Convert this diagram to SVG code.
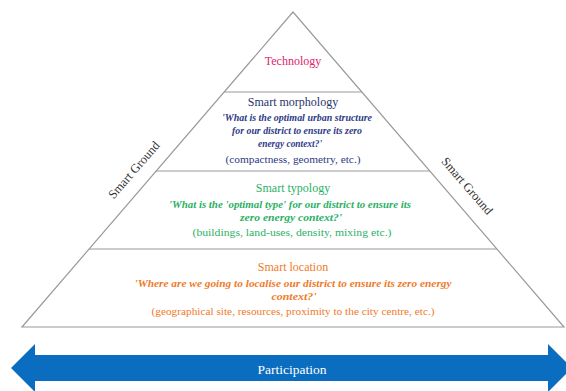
<svg xmlns="http://www.w3.org/2000/svg" width="566" height="391" viewBox="0 0 566 391" font-family="'Liberation Serif', 'Times New Roman', serif">
<style>
text{text-anchor:middle}
.t{font-size:12px}
.q{font-size:10.5px;font-weight:bold;font-style:italic}
.p{font-size:11px}
.ln{stroke:#9a9a9a;stroke-width:1.2;fill:none}
.navy{fill:#27336a}
.qnavy{fill:#2e3a86}
.green{fill:#2bb065}
.orange{fill:#f07a2a}
.sg{font-size:12.5px;fill:#333}
</style>
<rect width="566" height="391" fill="#ffffff"/>
<g id="connectors">
<path class="ln" d="M293,12 L22,327 L564,327 Z"/>
<line class="ln" x1="224" y1="92" x2="362" y2="92"/>
<line class="ln" x1="156" y1="171" x2="430" y2="171"/>
<line class="ln" x1="89" y1="249" x2="497" y2="249"/>
</g>
<g id="technology">
<text class="t" x="293" y="65" fill="#e0226c">Technology</text>
</g>
<g id="smart-morphology">
<text class="t navy" x="293" y="106">Smart morphology</text>
<text class="q qnavy" x="297" y="121" textLength="150" lengthAdjust="spacingAndGlyphs">'What is the optimal urban structure</text>
<text class="q qnavy" x="297" y="134" textLength="130" lengthAdjust="spacingAndGlyphs">for our district to ensure its zero</text>
<text class="q qnavy" x="290" y="147" textLength="64" lengthAdjust="spacingAndGlyphs">energy context?'</text>
<text class="p qnavy" x="293" y="163" textLength="135" lengthAdjust="spacingAndGlyphs">(compactness, geometry, etc.)</text>
</g>
<g id="smart-typology">
<text class="t green" x="293" y="192">Smart typology</text>
<text class="q green" x="290" y="208" textLength="242" lengthAdjust="spacingAndGlyphs">'What is the 'optimal type' for our district to ensure its</text>
<text class="q green" x="291" y="221" textLength="102" lengthAdjust="spacingAndGlyphs">zero energy context?'</text>
<text class="p green" x="292" y="236" textLength="199" lengthAdjust="spacingAndGlyphs">(buildings, land-uses, density, mixing etc.)</text>
</g>
<g id="smart-location">
<text class="t orange" x="293" y="271">Smart location</text>
<text class="q orange" x="293" y="287" textLength="317" lengthAdjust="spacingAndGlyphs">'Where are we going to localise our district to ensure its zero energy</text>
<text class="q orange" x="294" y="300" textLength="45" lengthAdjust="spacingAndGlyphs">context?'</text>
<text class="p orange" x="293" y="315" textLength="283" lengthAdjust="spacingAndGlyphs">(geographical site, resources, proximity to the city centre, etc.)</text>
</g>
<g id="smart-ground-left">
<text class="sg" transform="translate(134,170) rotate(-49)" y="4">Smart Ground</text>
</g>
<g id="smart-ground-right">
<text class="sg" transform="translate(467,186) rotate(49)" y="4">Smart Ground</text>
</g>
<g id="participation">
<path d="M11,368 L35,344 L35,355 L548,355 L548,344 L572,368 L548,392 L548,381 L35,381 L35,392 Z" fill="#0b6dc0"/>
<text x="292" y="374" font-size="13.5px" fill="#ffffff">Participation</text>
</g>
</svg>
